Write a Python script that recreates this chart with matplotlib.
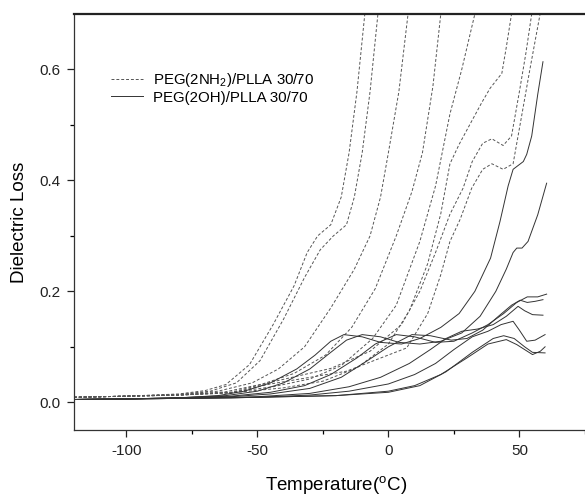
import matplotlib
matplotlib.use("Agg")
from matplotlib import pyplot as plt

# PEG(2NH2)/PLLA 30/70 (dashed), one curve per frequency
nh2_t1 = [-120, -100, -80, -70, -62, -53, -44, -36, -31, -27, -22, -18, -15, -12, -9, -7]
nh2_v1 = [0.009, 0.011, 0.015, 0.021, 0.032, 0.068, 0.14, 0.21, 0.27, 0.30, 0.32, 0.37, 0.45, 0.56, 0.70, 0.78]
nh2_t2 = [-120, -100, -80, -68, -58, -49, -40, -32, -26, -21, -16, -13, -10, -7, -4, -2]
nh2_v2 = [0.009, 0.011, 0.014, 0.02, 0.035, 0.075, 0.15, 0.225, 0.275, 0.30, 0.32, 0.37, 0.45, 0.56, 0.70, 0.78]
nh2_t3 = [-120, -100, -80, -65, -52, -42, -32, -22, -13, -7, -3, 0, 4, 7.5, 9.5]
nh2_v3 = [0.009, 0.011, 0.014, 0.02, 0.035, 0.06, 0.10, 0.17, 0.24, 0.30, 0.37, 0.45, 0.56, 0.70, 0.78]
nh2_t4 = [-120, -100, -80, -62, -48, -36, -24, -14, -5, 3, 9, 13, 17, 20, 22]
nh2_v4 = [0.009, 0.011, 0.013, 0.019, 0.033, 0.052, 0.085, 0.135, 0.205, 0.30, 0.38, 0.45, 0.57, 0.70, 0.78]
nh2_t5 = [-120, -100, -80, -60, -44, -30, -18, -6, 3, 12, 18, 23.5, 28, 33, 35]
nh2_v5 = [0.009, 0.011, 0.013, 0.018, 0.028, 0.042, 0.066, 0.115, 0.175, 0.29, 0.39, 0.52, 0.60, 0.70, 0.78]
nh2_t6 = [-120, -100, -80, -60, -40, -25, -12, 0, 8, 15, 20, 23.5, 27, 31, 35.6, 38.8, 43.3, 45, 47, 48.5]
nh2_v6 = [0.009, 0.011, 0.013, 0.017, 0.026, 0.038, 0.062, 0.105, 0.165, 0.25, 0.34, 0.43, 0.465, 0.50, 0.54, 0.566, 0.593, 0.64, 0.70, 0.78]
nh2_t7 = [-120, -100, -80, -60, -45, -22, -7, 5, 12, 18, 23.5, 28.5, 32, 36, 39.5, 43.8, 47, 50, 52.5, 54.7, 56]
nh2_v7 = [0.009, 0.011, 0.013, 0.018, 0.036, 0.061, 0.092, 0.14, 0.20, 0.27, 0.339, 0.386, 0.434, 0.467, 0.475, 0.463, 0.48, 0.56, 0.63, 0.70, 0.78]
nh2_t8 = [-120, -100, -80, -60, -45, -16, 7, 15, 20, 23.5, 27.4, 31.8, 36, 39.5, 43.8, 47.6, 51, 54, 57.9, 59]
nh2_v8 = [0.009, 0.011, 0.013, 0.017, 0.033, 0.056, 0.098, 0.16, 0.23, 0.29, 0.33, 0.386, 0.42, 0.43, 0.42, 0.43, 0.52, 0.60, 0.70, 0.78]

# PEG(2OH)/PLLA 30/70 (solid)
oh_t1 = [-120, -100, -80, -65, -55, -45, -35, -28, -22, -17, -10, -3, 5, 12, 20, 27, 33, 39, 42.6, 45.7, 47.6, 51.5, 52.8, 54.7, 57, 59]
oh_v1 = [0.005, 0.006, 0.008, 0.012, 0.02, 0.035, 0.06, 0.085, 0.11, 0.122, 0.118, 0.108, 0.105, 0.115, 0.135, 0.16, 0.20, 0.26, 0.326, 0.39, 0.42, 0.434, 0.447, 0.48, 0.555, 0.614]
oh_t2 = [-120, -100, -80, -62, -50, -40, -30, -22, -16, -10, -3, 4, 12, 20, 28, 35, 41, 45, 47.6, 49, 51, 53.3, 57, 60.4]
oh_v2 = [0.005, 0.006, 0.008, 0.012, 0.02, 0.035, 0.06, 0.09, 0.112, 0.122, 0.118, 0.108, 0.105, 0.11, 0.125, 0.155, 0.20, 0.24, 0.27, 0.278, 0.278, 0.29, 0.338, 0.395]
oh_t3 = [-120, -100, -80, -60, -45, -32, -22, -12, -5, 3, 10, 18, 25, 32, 38, 44, 49, 53, 57, 60.4]
oh_v3 = [0.005, 0.006, 0.008, 0.011, 0.018, 0.03, 0.05, 0.08, 0.105, 0.122, 0.118, 0.108, 0.11, 0.125, 0.14, 0.16, 0.18, 0.19, 0.19, 0.195]
oh_t4 = [-120, -100, -80, -60, -45, -30, -18, -8, 0, 9, 16, 24, 30, 36, 42, 47, 50.3, 53, 56, 59]
oh_v4 = [0.005, 0.006, 0.008, 0.01, 0.015, 0.025, 0.045, 0.075, 0.10, 0.122, 0.12, 0.112, 0.115, 0.13, 0.155, 0.175, 0.184, 0.18, 0.182, 0.185]
oh_t5 = [-120, -80, -50, -30, -15, -3, 8, 16, 22, 28, 34, 40, 45, 49.5, 52, 55, 59]
oh_v5 = [0.005, 0.007, 0.01, 0.016, 0.028, 0.045, 0.07, 0.095, 0.115, 0.128, 0.132, 0.14, 0.155, 0.173, 0.165, 0.158, 0.157]
oh_t6 = [-120, -80, -50, -30, -15, 0, 10, 18, 25, 32, 38, 43, 47.6, 50, 52.8, 56, 59.8]
oh_v6 = [0.005, 0.007, 0.009, 0.013, 0.02, 0.033, 0.05, 0.07, 0.095, 0.118, 0.128, 0.14, 0.146, 0.13, 0.11, 0.112, 0.122]
oh_t7 = [-120, -60, -20, 0, 10, 20, 30, 38, 45, 49, 52, 55, 58, 59.8]
oh_v7 = [0.005, 0.008, 0.012, 0.02, 0.03, 0.05, 0.08, 0.105, 0.113, 0.104, 0.095, 0.086, 0.092, 0.10]
oh_t8 = [-120, -60, -20, 0, 12, 22, 32, 40, 44, 48, 52, 55, 59.8]
oh_v8 = [0.005, 0.008, 0.012, 0.018, 0.03, 0.055, 0.09, 0.115, 0.12, 0.115, 0.10, 0.09, 0.089]

nh2_curves = [(nh2_t1, nh2_v1), (nh2_t2, nh2_v2), (nh2_t3, nh2_v3), (nh2_t4, nh2_v4),
              (nh2_t5, nh2_v5), (nh2_t6, nh2_v6), (nh2_t7, nh2_v7), (nh2_t8, nh2_v8)]
oh_curves = [(oh_t1, oh_v1), (oh_t2, oh_v2), (oh_t3, oh_v3), (oh_t4, oh_v4),
             (oh_t5, oh_v5), (oh_t6, oh_v6), (oh_t7, oh_v7), (oh_t8, oh_v8)]

plt.rcParams['font.family'] = ['Liberation Sans', 'DejaVu Sans']
plt.rcParams['mathtext.fontset'] = 'custom'
plt.rcParams['mathtext.rm'] = 'Liberation Sans'
plt.rcParams['axes.unicode_minus'] = False

fig = plt.figure(figsize=(5.85, 4.97), dpi=100)
ax = fig.add_axes([0.1265, 0.1348, 0.8957, 0.837])

for i, (t, v) in enumerate(nh2_curves):
    ax.plot(t, v, color='#555555', lw=0.7, dashes=(3, 2),
            label='PEG(2NH$_2$)/PLLA 30/70' if i == 0 else None)
for i, (t, v) in enumerate(oh_curves):
    ax.plot(t, v, color='#333333', lw=0.7,
            label='PEG(2OH)/PLLA 30/70' if i == 0 else None)

ax.set_xlim(-120, 80)
ax.set_ylim(-0.05, 0.7)
ax.set_xticks([-100, -50, 0, 50])
ax.set_xticks([-75, -25, 25, 75], minor=True)
ax.set_yticks([0.0, 0.2, 0.4, 0.6])
ax.set_yticks([0.1, 0.3, 0.5], minor=True)
ax.set_yticklabels(['0.0', '0.2', '0.4', '0.6'])
ax.tick_params(which='major', direction='out', length=5, width=0.9, pad=5,
               labelsize=11, colors='#222222')
ax.tick_params(which='minor', direction='out', length=3, width=0.9)

for s in ['left', 'bottom']:
    ax.spines[s].set_linewidth(0.9)
    ax.spines[s].set_color('#333333')
ax.spines['top'].set_linewidth(1.6)
ax.spines['top'].set_color('#222222')

ax.set_xlabel('Temperature($^\\mathregular{o}$C)', fontsize=13.5, labelpad=12)
ax.set_ylabel('Dielectric Loss', fontsize=13.5, labelpad=8)

leg = ax.legend(loc='upper left', bbox_to_anchor=(0.045, 0.895), frameon=False,
                fontsize=10.8, handlelength=2.1, handletextpad=0.7, labelspacing=0.1)

fig.savefig('out.png', dpi=100)
